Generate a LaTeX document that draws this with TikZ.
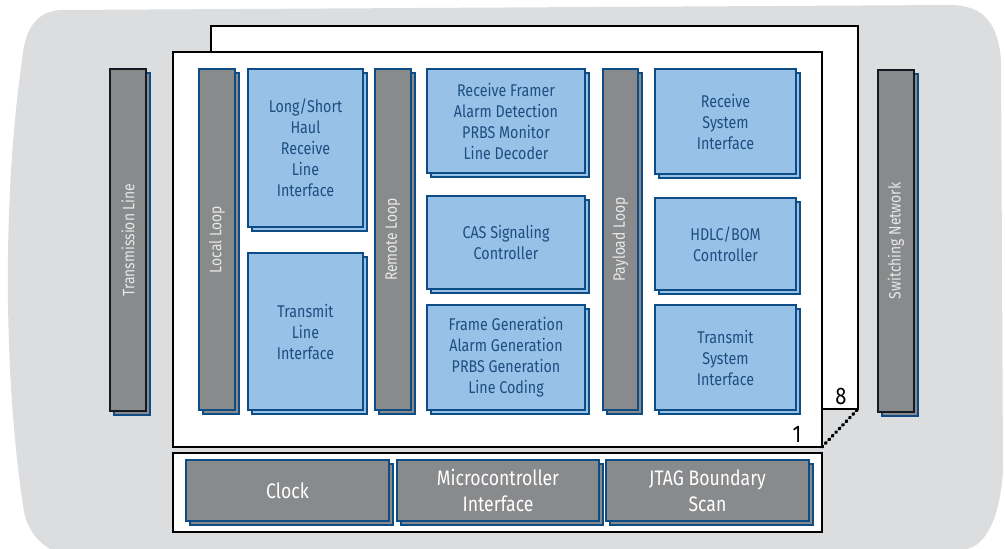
\documentclass[tikz,border=0pt]{standalone}
\usepackage{fontspec}
\setmainfont{Fira Sans}[FakeStretch=0.84]
\usepackage{graphicx}
\definecolor{bggrey}{HTML}{DCDDDF}
\definecolor{boxgrey}{HTML}{898A8C}
\definecolor{edgeblue}{HTML}{0D4C85}
\definecolor{fillblue}{HTML}{98C1E7}
\definecolor{textblue}{HTML}{1C4E80}
\definecolor{bartext}{HTML}{E8E8E8}
\definecolor{darkedge}{HTML}{141A24}
\usepackage{tikz}
\usetikzlibrary{shadows}
\tikzstyle{base}=[x=1pt, y=-1pt, inner sep=0pt, outer sep=0pt]
\tikzstyle{frame}=[draw=black, fill=white, line width=1.4pt]
\tikzstyle{bluebox}=[draw=edgeblue, fill=fillblue, line width=2pt, text=textblue, align=center, font=\fontsize{17}{21}\selectfont, copy shadow={shadow xshift=4pt, shadow yshift=-4pt, draw=edgeblue, fill=fillblue}]
\tikzstyle{loopbar}=[draw=edgeblue, fill=boxgrey, line width=2pt, text=bartext, font=\fontsize{16.5}{19}\selectfont, copy shadow={shadow xshift=4pt, shadow yshift=-4pt, draw=edgeblue, fill=boxgrey}]
\tikzstyle{outerbar}=[loopbar, draw=darkedge]
\tikzstyle{ctrlbox}=[loopbar, align=center, text=white, font=\fontsize{21}{26}\selectfont]
\tikzstyle{dotlink}=[draw=black, line width=3.4pt, line cap=round, dash pattern=on 1pt off 4pt]

\begin{document}
\begin{tikzpicture}[base]
    \path [use as bounding box] (0,0) rectangle (1005,549);
    \fill [bggrey] (60,10) -- (950,5) .. controls (985,5) and (998,25) .. (1001,60) -- (1003,470) .. controls (1000,520) and (985,545) .. (967,549) -- (50,549) .. controls (35,540) and (25,525) .. (23,505) .. controls (4,380) and (2,200) .. (22,60) .. controls (25,30) and (35,12) .. (60,10) -- cycle;
    % chip outlines
    \node [frame, minimum width=647, minimum height=383] (rear) at (534.5,217.5) {};
    \node [frame, minimum width=649, minimum height=395] (core) at (497.5,249.5) {};
    \node [frame, minimum width=649, minimum height=79] (ctrl) at (497.5,492.5) {};
    \draw [dotlink] (core.south east) -- (rear.south east);
    \node [font=\fontsize{24}{24}\selectfont] (eight) at (841,396) {8};
    \node [font=\fontsize{24}{24}\selectfont] (one) at (797,434) {1};
    % outside
    \node [outerbar, minimum width=36, minimum height=342] (tline) at (128,240) {\rotatebox{90}{Transmission Line}};
    \node [outerbar, minimum width=36, minimum height=342] (swnet) at (896,241) {\rotatebox{90}{Switching Network}};
    % loops
    \node [loopbar, minimum width=36, minimum height=341] (local) at (217,239.5) {\rotatebox{90}{Local Loop}};
    \node [loopbar, minimum width=36, minimum height=341] (remote) at (393,239.5) {\rotatebox{90}{Remote Loop}};
    \node [loopbar, minimum width=35, minimum height=341] (payload) at (620.5,239.5) {\rotatebox{90}{Payload Loop}};
    % line side
    \node [bluebox, minimum width=115, minimum height=158] (haul) at (305.5,148) {Long/Short\\Haul\\Receive\\Line\\Interface};
    \node [bluebox, minimum width=115, minimum height=157] (txline) at (305.5,331.5) {Transmit\\Line\\Interface};
    % framer
    \node [bluebox, minimum width=158, minimum height=104] (rxframer) at (506,121) {Receive Framer\\Alarm Detection\\PRBS Monitor\\Line Decoder};
    \node [bluebox, minimum width=158, minimum height=93] (cas) at (506,242.5) {CAS Signaling\\Controller};
    \node [bluebox, minimum width=158, minimum height=105] (txframer) at (506,357.5) {Frame Generation\\Alarm Generation\\PRBS Generation\\Line Coding};
    % system side
    \node [bluebox, minimum width=141, minimum height=105] (rxsys) at (725.5,121.5) {Receive\\System\\Interface};
    \node [bluebox, minimum width=141, minimum height=92] (hdlc) at (725.5,244) {HDLC/BOM\\Controller};
    \node [bluebox, minimum width=141, minimum height=105] (txsys) at (725.5,357.5) {Transmit\\System\\Interface};
    % control
    \node [ctrlbox, minimum width=203, minimum height=61] (clock) at (287.5,490.5) {Clock};
    \node [ctrlbox, minimum width=202, minimum height=61] (micro) at (498,490.5) {Microcontroller\\Interface};
    \node [ctrlbox, minimum width=203, minimum height=61] (jtag) at (707.5,490.5) {JTAG Boundary\\Scan};
\end{tikzpicture}
\end{document}
